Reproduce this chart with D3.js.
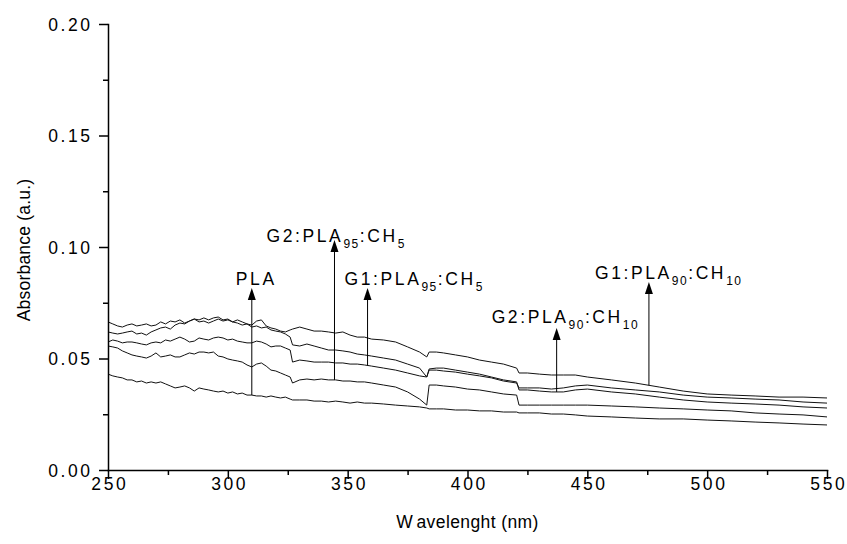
<!DOCTYPE html>
<html>
<head>
<meta charset="utf-8">
<script src="https://cdn.jsdelivr.net/npm/d3@7"></script>
<style>
  html, body { margin: 0; padding: 0; background: #fff; }
  svg { display: block; font-family: "Liberation Sans", Arial, Helvetica, sans-serif; }
</style>
</head>
<body>
<svg id="chart" width="847" height="544"></svg>
<script>
// Wavelength grid (nm) shared by all spectra
const wavelength = [
  250,252,254,256,258,260,262,264,266,268,270,272,274,276,278,280,282,284,286,288,
  290,292,294,296,298,300,302,304,306,308,310,312,314,316,318,320,322,324,326,
  327,
  330,333,336,339,342,345,348,351,354,357,360,
  365,370,375,380,
  383,384,387,390,
  395,400,405,410,415,
  420.5,421.5,
  425,430,435,440,445,450,
  460,470,480,490,500,510,520,530,540,550
];

// Absorbance (a.u.) of each film
const g1Pla90Ch10 = [
  .0664,.0655,.0646,.0641,.0650,.0655,.0646,.0650,.0655,.0646,.0650,.0664,.0655,.0668,.0664,.0673,.0659,.0668,.0677,.0673,
  .0682,.0673,.0682,.0686,.0673,.0677,.0664,.0673,.0664,.0655,.0650,.0668,.0673,.0646,.0637,.0632,.0623,.0619,.0628,
  .0632,
  .0641,.0632,.0623,.0623,.0619,.0614,.0619,.0605,.0596,.0596,.0587,
  .0583,.0574,.0552,.0529,
  .0507,.0529,.0529,.0525,
  .0516,.0507,.0493,.0484,.0475,
  .0457,.0435,
  .0435,.0430,.0426,.0426,.0426,.0417,
  .0404,.0390,.0372,.0354,.0341,.0336,.0332,.0327,.0327,.0323
];
const g2Pla90Ch10 = [
  .0619,.0614,.0610,.0614,.0619,.0623,.0610,.0614,.0605,.0619,.0628,.0637,.0641,.0632,.0650,.0659,.0655,.0668,.0677,.0664,
  .0668,.0659,.0668,.0677,.0668,.0673,.0664,.0659,.0650,.0655,.0641,.0646,.0637,.0641,.0628,.0623,.0619,.0610,.0596,
  .0561,
  .0556,.0565,.0556,.0547,.0538,.0538,.0534,.0529,.0520,.0516,.0511,
  .0502,.0493,.0475,.0457,
  .0417,.0453,.0457,.0457,
  .0448,.0439,.0430,.0417,.0404,
  .0395,.0359,
  .0359,.0354,.0350,.0350,.0359,.0363,
  .0350,.0341,.0327,.0314,.0305,.0300,.0296,.0291,.0283,.0278
];
const g1Pla95Ch5 = [
  .0574,.0583,.0578,.0570,.0574,.0574,.0570,.0565,.0561,.0570,.0574,.0570,.0583,.0578,.0587,.0596,.0587,.0574,.0578,.0592,
  .0587,.0583,.0592,.0596,.0592,.0583,.0587,.0578,.0574,.0570,.0570,.0578,.0574,.0565,.0552,.0556,.0556,.0547,.0538,
  .0484,
  .0493,.0489,.0484,.0484,.0484,.0480,.0480,.0475,.0475,.0471,.0466,
  .0457,.0448,.0435,.0422,
  .0417,.0448,.0448,.0444,
  .0439,.0430,.0422,.0413,.0399,
  .0390,.0368,
  .0368,.0368,.0363,.0368,.0377,.0381,
  .0368,.0359,.0350,.0336,.0327,.0323,.0318,.0314,.0305,.0300
];
const g2Pla95Ch5 = [
  .0556,.0552,.0547,.0534,.0525,.0516,.0511,.0507,.0502,.0511,.0525,.0507,.0511,.0516,.0507,.0507,.0516,.0525,.0520,.0529,
  .0529,.0525,.0529,.0511,.0507,.0498,.0493,.0489,.0484,.0471,.0462,.0475,.0480,.0466,.0448,.0444,.0435,.0426,.0417,
  .0390,
  .0404,.0408,.0404,.0408,.0404,.0404,.0399,.0399,.0395,.0395,.0390,
  .0381,.0372,.0350,.0318,
  .0291,.0381,.0381,.0377,
  .0372,.0363,.0359,.0350,.0341,
  .0336,.0291,
  .0291,.0291,.0291,.0291,.0291,.0291,
  .0287,.0283,.0278,.0274,.0269,.0265,.0256,.0251,.0247,.0238
];
const pla = [
  .0430,.0422,.0417,.0413,.0404,.0404,.0395,.0399,.0390,.0395,.0390,.0395,.0386,.0377,.0368,.0372,.0377,.0368,.0354,.0368,
  .0363,.0359,.0354,.0350,.0354,.0345,.0350,.0341,.0345,.0336,.0336,.0332,.0332,.0327,.0332,.0327,.0323,.0327,.0318,
  .0314,
  .0314,.0314,.0309,.0309,.0305,.0309,.0305,.0300,.0305,.0300,.0300,
  .0296,.0291,.0287,.0283,
  .0278,.0274,.0274,.0274,
  .0269,.0269,.0265,.0265,.0260,
  .0260,.0256,
  .0256,.0256,.0251,.0251,.0247,.0242,
  .0238,.0233,.0229,.0229,.0224,.0220,.0215,.0211,.0206,.0202
];

const seriesNames = ["G1:PLA90:CH10", "G2:PLA90:CH10", "G1:PLA95:CH5", "G2:PLA95:CH5", "PLA"];
const seriesValues = [g1Pla90Ch10, g2Pla90Ch10, g1Pla95Ch5, g2Pla95Ch5, pla];

// Arrow annotations: wavelength of the arrow and absorbance at its head
const labelNames = ["PLA", "G2:PLA95:CH5", "G1:PLA95:CH5", "G2:PLA90:CH10", "G1:PLA90:CH10"];
const labelWavelength = [310, 344.5, 358.3, 437.2, 475.7];
const labelTip = [0.0816, 0.1031, 0.0816, 0.0637, 0.0843];

const xTicks = [250, 300, 350, 400, 450, 500, 550];
const xMinorTicks = [275, 325, 375, 425, 475, 525];
const yTicks = [0.00, 0.05, 0.10, 0.15, 0.20];
const yMinorTicks = [0.025, 0.075, 0.125, 0.175];

// ---- layout ----
const W = 847, H = 544;
const margin = { left: 108, right: 20, top: 24, bottom: 74 };
const svg = d3.select("#chart");

const x = d3.scaleLinear().domain([250, 550]).range([margin.left, W - margin.right]);
const y = d3.scaleLinear().domain([0, 0.2]).range([H - margin.bottom, margin.top]);

const FONT = 17.5, SPACING = 2.6;

// ---- spectra ----
const line = d3.line()
  .x((d, i) => x(wavelength[i]))
  .y(d => y(d));

svg.append("g").attr("class", "spectra")
  .selectAll("path")
  .data(seriesValues)
  .join("path")
  .attr("fill", "none")
  .attr("stroke", "#111")
  .attr("stroke-width", 1)
  .attr("stroke-linejoin", "round")
  .attr("d", line);

// ---- axes ----
function styleAxis(g) {
  g.select(".domain").attr("stroke", "#000").attr("stroke-width", 1.5);
  g.selectAll(".tick line").attr("stroke", "#000").attr("stroke-width", 1.5);
}

const xAxisY = y(0);
const gxMinor = svg.append("g").attr("transform", `translate(0,${xAxisY})`)
  .call(d3.axisBottom(x).tickValues(xMinorTicks).tickSize(5).tickFormat(""));
gxMinor.select(".domain").remove();
gxMinor.selectAll(".tick line").attr("stroke", "#000").attr("stroke-width", 1.5);

const gx = svg.append("g").attr("transform", `translate(0,${xAxisY})`)
  .call(d3.axisBottom(x).tickValues(xTicks).tickSize(9).tickSizeOuter(0).tickFormat(d3.format("d")));
styleAxis(gx);
gx.selectAll(".tick text")
  .attr("fill", "#000")
  .attr("font-size", FONT)
  .attr("font-family", null)
  .attr("letter-spacing", SPACING)
  .attr("dx", SPACING / 2)
  .attr("y", 19.5)
  .attr("dy", 0)
  .attr("dominant-baseline", "auto");

const gyMinor = svg.append("g").attr("transform", `translate(${margin.left},0)`)
  .call(d3.axisLeft(y).tickValues(yMinorTicks).tickSize(5).tickFormat(""));
gyMinor.select(".domain").remove();
gyMinor.selectAll(".tick line").attr("stroke", "#000").attr("stroke-width", 1.5);

const gy = svg.append("g").attr("transform", `translate(${margin.left},0)`)
  .call(d3.axisLeft(y).tickValues(yTicks).tickSize(9).tickSizeOuter(0).tickFormat(d3.format(".2f")));
styleAxis(gy);
gy.selectAll(".tick text")
  .attr("fill", "#000")
  .attr("font-size", FONT)
  .attr("font-family", null)
  .attr("letter-spacing", SPACING)
  .attr("x", -18 + SPACING)
  .attr("dy", "0.36em");

svg.selectAll(".domain").attr("stroke-linecap", "square");

// ---- axis titles ----
const xTitle = svg.append("text")
  .attr("x", (x(250) + x(550)) / 2)
  .attr("y", 528)
  .attr("text-anchor", "middle")
  .attr("font-size", FONT)
  .attr("letter-spacing", 0.4)
  .attr("fill", "#000");
xTitle.append("tspan").text("W");
xTitle.append("tspan").attr("dx", 4).text("avelenght (nm)");

svg.append("text")
  .attr("transform", `translate(30,250) rotate(-90)`)
  .attr("text-anchor", "middle")
  .attr("font-size", FONT)
  .attr("letter-spacing", 0.2)
  .attr("fill", "#000")
  .text("Absorbance (a.u.)");

// ---- arrow annotations ----
function valueAt(values, wl) {
  const i = d3.bisector(d => d).right(wavelength, wl);
  const i0 = Math.max(0, i - 1), i1 = Math.min(wavelength.length - 1, i);
  if (i0 === i1) return values[i0];
  const t = (wl - wavelength[i0]) / (wavelength[i1] - wavelength[i0]);
  return values[i0] + t * (values[i1] - values[i0]);
}

function labelParts(name) {
  const out = [];
  const re = /(PLA|CH)(\d+)/g;
  let last = 0, m;
  while ((m = re.exec(name))) {
    out.push({ t: name.slice(last, m.index) + m[1], sub: false });
    out.push({ t: m[2], sub: true });
    last = re.lastIndex;
  }
  if (last < name.length) out.push({ t: name.slice(last), sub: false });
  return out;
}

// text start relative to the arrow, baseline relative to the arrow head (px)
const labelOffset = {
  "PLA":           [-16, -3],
  "G2:PLA95:CH5":  [-68,  2],
  "G1:PLA95:CH5":  [-23, -3],
  "G2:PLA90:CH10": [-65, -5],
  "G1:PLA90:CH10": [-54, -3]
};

const ann = svg.append("g").attr("class", "annotations");
labelNames.forEach((name, k) => {
  const wl = labelWavelength[k];
  const series = seriesValues[seriesNames.indexOf(name)];
  const px = x(wl);
  const tipY = y(labelTip[k]);
  const baseY = y(valueAt(series, wl));

  ann.append("line")
    .attr("x1", px).attr("x2", px)
    .attr("y1", baseY).attr("y2", tipY + 8)
    .attr("stroke", "#000").attr("stroke-width", 1);
  ann.append("path")
    .attr("d", `M${px},${tipY} L${px - 4},${tipY + 12} L${px + 4},${tipY + 12} Z`)
    .attr("fill", "#000");

  const [ox, oy] = labelOffset[name];
  const t = ann.append("text")
    .attr("x", px + ox)
    .attr("y", tipY + oy)
    .attr("font-size", FONT)
    .attr("letter-spacing", SPACING)
    .attr("fill", "#000");
  let shifted = false;
  labelParts(name).forEach(p => {
    const ts = t.append("tspan").text(p.t);
    if (p.sub) {
      ts.attr("font-size", 12).attr("letter-spacing", 1.5).attr("dy", shifted ? 0 : 6);
      shifted = true;
    } else if (shifted) {
      ts.attr("dy", -6);
      shifted = false;
    }
  });
});
</script>
</body>
</html>
